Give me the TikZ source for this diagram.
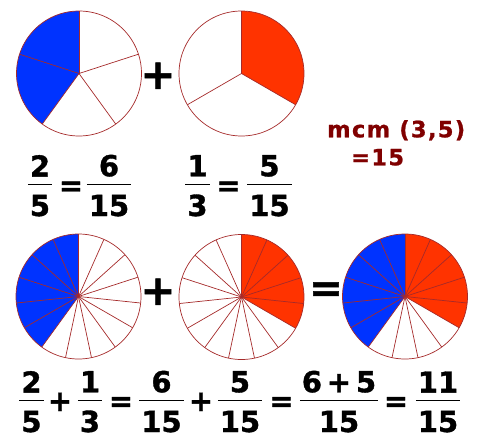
\documentclass[tikz,border=0pt]{standalone}
\usepackage{fontspec}
\setmainfont{DejaVu Sans}
\definecolor{azulpie}{HTML}{0033FF}
\definecolor{rojopie}{HTML}{FF3300}
\definecolor{bordepie}{HTML}{A52A2A}
\definecolor{granate}{HTML}{800000}
% fraccion apilada con raya
\newcommand{\fr}[2]{\vbox{\offinterlineskip\halign{\hfil\kern2pt##\kern2pt\hfil\cr#1\cr
  \noalign{\kern7.5pt\hrule height1.2pt\kern9.5pt}#2\cr}}}

\begin{document}
\begin{tikzpicture}[x=1pt,y=1pt,
  cifra/.style={inner sep=0pt,anchor=base,font=\fontsize{29}{30}\selectfont\bfseries\addfontfeatures{FakeBold=1.2}},
  signo/.style={inner sep=0pt,anchor=base,font=\fontsize{42}{44}\selectfont\bfseries\addfontfeatures{FakeBold=1.2}},
  mcmtexto/.style={inner sep=0pt,anchor=base west,text=granate,
    font=\fontsize{22.5}{24}\selectfont\bfseries\addfontfeatures{LetterSpace=6,FakeBold=1}},
  gajo/.style={draw=bordepie,line width=.7pt}]
  \useasboundingbox (0,0) rectangle (477,-439);
  % tarta 2/5
  \fill[azulpie] (79,-73.5) -- ++(90:62.5pt) arc[start angle=90,end angle=234,radius=62.5pt] -- cycle;
  \foreach \a in {90,162,...,378} \draw[gajo] (79,-73.5) -- ++(\a:62.5pt);
  \draw[gajo] (79,-73.5) circle[radius=62.5pt];
  % tarta 1/3
  \fill[rojopie] (241.5,-73.5) -- ++(-30:62.5pt) arc[start angle=-30,end angle=90,radius=62.5pt] -- cycle;
  \foreach \a in {90,210,330} \draw[gajo] (241.5,-73.5) -- ++(\a:62.5pt);
  \draw[gajo] (241.5,-73.5) circle[radius=62.5pt];
  \node[signo] (mas1) at (158,-88.9) {+};
  % tartas en quinceavos
  \fill[azulpie] (78.5,-296.5) -- ++(90:62.5pt) arc[start angle=90,end angle=234,radius=62.5pt] -- cycle;
  \foreach \a in {90,114,...,426} \draw[gajo] (78.5,-296.5) -- ++(\a:62.5pt);
  \draw[gajo] (78.5,-296.5) circle[radius=62.5pt];
  \fill[rojopie] (241.5,-297) -- ++(-30:62.5pt) arc[start angle=-30,end angle=90,radius=62.5pt] -- cycle;
  \foreach \a in {90,114,...,426} \draw[gajo] (241.5,-297) -- ++(\a:62.5pt);
  \draw[gajo] (241.5,-297) circle[radius=62.5pt];
  \fill[azulpie] (405,-296.5) -- ++(90:62.5pt) arc[start angle=90,end angle=234,radius=62.5pt] -- cycle;
  \fill[rojopie] (405,-296.5) -- ++(-30:62.5pt) arc[start angle=-30,end angle=90,radius=62.5pt] -- cycle;
  \foreach \a in {90,114,...,426} \draw[gajo] (405,-296.5) -- ++(\a:62.5pt);
  \draw[gajo] (405,-296.5) circle[radius=62.5pt];
  \node[signo] (mas2) at (158,-304.9) {+};
  \node[signo,font=\fontsize{40}{42}\selectfont\bfseries\addfontfeatures{FakeBold=1.2}] (igual0) at (326,-301.7) {=};
  % mcm
  \node[mcmtexto] (mcm) at (327,-137.3) {mcm (3,5)};
  \node[mcmtexto] (mcmval) at (351,-165.3) {=15};
  % equivalencias
  \node[cifra] (f25) at (40,-216) {\fr{2}{5}};
  \node[cifra] (ig1) at (71,-195.6) {=};
  \node[cifra] (f615) at (109,-216) {\fr{6}{15}};
  \node[cifra] (f13) at (197.5,-216) {\fr{1}{3}};
  \node[cifra] (ig2) at (228.5,-195.6) {=};
  \node[cifra] (f515) at (269.5,-216) {\fr{5}{15}};
  % suma
  \node[cifra] (s25) at (31.5,-432) {\fr{2}{5}};
  \node[cifra] (s1) at (60,-411) {+};
  \node[cifra] (s13) at (90,-432) {\fr{1}{3}};
  \node[cifra] (s2) at (121,-411) {=};
  \node[cifra] (s615) at (161.5,-432) {\fr{6}{15}};
  \node[cifra] (s3) at (201,-411) {+};
  \node[cifra] (s515) at (240,-432) {\fr{5}{15}};
  \node[cifra] (s4) at (281.5,-411) {=};
  \node[cifra] (ssum) at (339,-432) {\fr{6\,+\,5}{15}};
  \node[cifra] (s5) at (396,-411) {=};
  \node[cifra] (s1115) at (438,-432) {\fr{11}{15}};
\end{tikzpicture}
\end{document}
